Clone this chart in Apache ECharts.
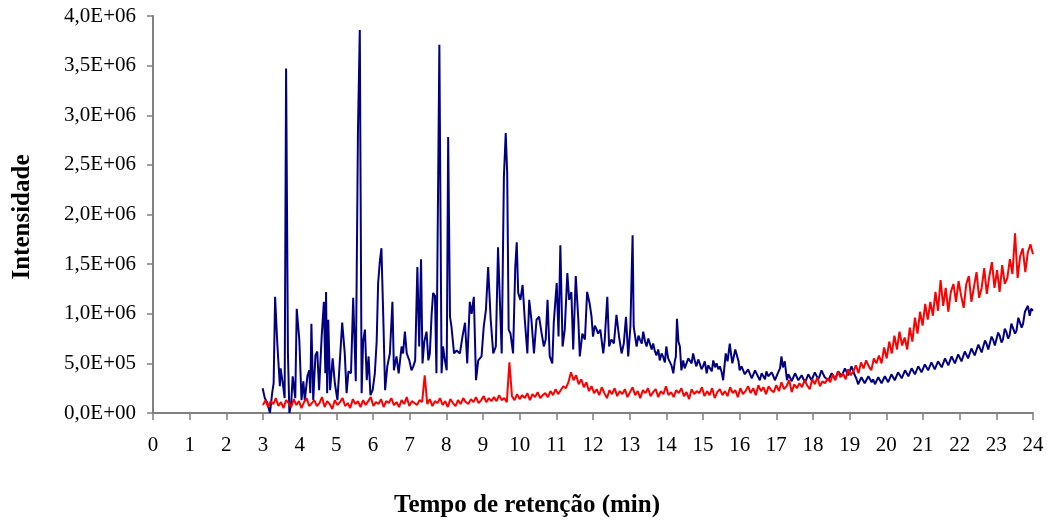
<!DOCTYPE html>
<html>
<head>
<meta charset="utf-8">
<script src="https://cdn.jsdelivr.net/npm/echarts@6/dist/echarts.min.js"></script>
<style>
html,body{margin:0;padding:0;background:#fff;}
#chart{width:1047px;height:524px;}
</style>
</head>
<body>
<div id="chart"></div>
<script>
// ---- DATA (intensity values in millions) ----
const X_TITLE = 'Tempo de retenção (min)';
const Y_TITLE = 'Intensidade';
const Y_TICK_LABELS = ['0,0E+00','5,0E+05','1,0E+06','1,5E+06','2,0E+06','2,5E+06','3,0E+06','3,5E+06','4,0E+06'];
const SCALE = 1e6;

// Blue series: [time (min), intensity (millions)]
const BLUE = [
[2.99,0.25],[3.05,0.15],[3.12,0.10],[3.19,0.00],[3.25,0.20],[3.29,0.30],[3.33,1.17],[3.39,0.70],[3.46,0.27],[3.48,0.45],
[3.55,0.27],[3.59,0.15],[3.63,3.47],[3.68,0.60],[3.72,0.00],[3.77,0.10],[3.81,0.37],[3.85,0.38],[3.88,0.15],[3.92,1.05],
[3.99,0.74],[4.05,0.13],[4.10,0.32],[4.14,0.13],[4.21,0.37],[4.26,0.43],[4.29,0.20],[4.32,0.90],[4.37,0.13],[4.43,0.58],
[4.48,0.62],[4.53,0.23],[4.60,0.77],[4.66,1.12],[4.70,0.40],[4.72,1.22],[4.75,0.20],[4.78,0.94],[4.83,0.23],[4.90,0.55],
[4.96,0.30],[5.03,0.13],[5.10,0.55],[5.16,0.91],[5.23,0.60],[5.28,0.20],[5.33,0.42],[5.40,0.40],[5.46,1.16],[5.53,0.32],
[5.59,2.85],[5.64,3.86],[5.69,0.20],[5.73,0.72],[5.78,0.84],[5.83,0.33],[5.88,0.57],[5.93,0.18],[5.99,0.23],[6.05,0.40],
[6.10,0.72],[6.14,1.31],[6.19,1.54],[6.23,1.66],[6.28,0.97],[6.33,0.23],[6.39,0.47],[6.46,0.60],[6.53,1.12],[6.57,0.43],
[6.64,0.57],[6.70,0.40],[6.78,0.67],[6.82,0.60],[6.87,0.82],[6.92,0.60],[6.99,0.53],[7.05,0.43],[7.10,0.47],[7.15,0.53],
[7.21,1.47],[7.26,0.67],[7.31,1.55],[7.35,0.50],[7.40,0.72],[7.46,0.82],[7.51,0.53],[7.55,0.60],[7.60,1.00],[7.64,1.21],
[7.69,1.18],[7.73,0.40],[7.78,0.40],[7.81,3.71],[7.87,0.40],[7.91,0.67],[7.96,0.53],[8.01,0.43],[8.05,2.78],[8.10,0.97],
[8.14,0.87],[8.21,0.60],[8.28,0.63],[8.37,0.60],[8.44,0.77],[8.51,0.91],[8.57,0.50],[8.64,1.12],[8.69,1.00],[8.75,1.17],
[8.81,0.33],[8.87,0.53],[8.96,0.57],[9.02,0.87],[9.08,1.04],[9.14,1.47],[9.21,0.94],[9.28,0.60],[9.35,0.67],[9.41,1.67],
[9.44,1.69],[9.51,0.60],[9.57,2.38],[9.62,2.82],[9.66,2.41],[9.70,0.84],[9.75,0.80],[9.82,0.60],[9.88,1.47],[9.92,1.72],
[9.96,1.21],[10.02,1.14],[10.08,1.29],[10.14,0.94],[10.21,0.60],[10.26,1.14],[10.32,0.94],[10.39,0.60],[10.46,0.94],[10.53,0.97],
[10.60,0.80],[10.66,0.67],[10.71,0.74],[10.76,1.14],[10.82,0.57],[10.89,0.50],[10.93,0.91],[11.01,1.31],[11.06,0.77],[11.11,1.69],
[11.17,0.67],[11.23,0.84],[11.30,1.41],[11.35,1.14],[11.41,1.22],[11.46,0.64],[11.53,1.38],[11.60,0.94],[11.64,0.57],[11.71,0.80],
[11.78,0.74],[11.84,1.22],[11.91,1.10],[11.96,0.97],[12.00,0.77],[12.05,0.88],[12.10,0.84],[12.14,0.80],[12.20,0.84],[12.28,0.60],
[12.32,0.74],[12.39,1.17],[12.44,0.67],[12.50,0.74],[12.57,0.70],[12.64,0.99],[12.71,0.77],[12.78,0.60],[12.84,0.70],[12.90,0.97],
[12.96,0.57],[13.02,0.87],[13.08,1.79],[13.11,0.87],[13.19,0.67],[13.24,0.78],[13.28,0.74],[13.33,0.70],[13.37,0.82],[13.42,0.72],
[13.46,0.67],[13.51,0.75],[13.55,0.70],[13.60,0.64],[13.64,0.70],[13.69,0.62],[13.73,0.58],[13.78,0.64],[13.82,0.53],[13.87,0.60],
[13.91,0.57],[13.96,0.51],[14.00,0.67],[14.05,0.55],[14.09,0.57],[14.14,0.48],[14.19,0.40],[14.23,0.52],[14.26,0.57],[14.29,0.95],
[14.33,0.72],[14.37,0.67],[14.41,0.43],[14.46,0.53],[14.50,0.45],[14.55,0.47],[14.60,0.55],[14.64,0.57],[14.69,0.50],[14.73,0.60],
[14.78,0.52],[14.82,0.47],[14.87,0.54],[14.91,0.50],[14.96,0.44],[15.00,0.47],[15.05,0.52],[15.10,0.40],[15.14,0.48],[15.19,0.47],
[15.24,0.42],[15.28,0.53],[15.33,0.46],[15.37,0.50],[15.42,0.44],[15.46,0.47],[15.51,0.41],[15.55,0.33],[15.58,0.45],[15.62,0.60],
[15.67,0.52],[15.73,0.70],[15.77,0.58],[15.80,0.50],[15.84,0.57],[15.88,0.64],[15.93,0.64],[15.97,0.52],[16.00,0.43],[16.05,0.47],
[16.09,0.45],[16.14,0.39],[16.19,0.38],[16.23,0.44],[16.28,0.42],[16.33,0.35],[16.37,0.36],[16.42,0.43],[16.46,0.41],[16.51,0.36],
[16.55,0.33],[16.60,0.40],[16.64,0.39],[16.69,0.34],[16.73,0.42],[16.78,0.37],[16.82,0.35],[16.87,0.41],[16.91,0.38],[16.96,0.33],
[17.00,0.34],[17.05,0.41],[17.10,0.45],[17.14,0.57],[17.18,0.46],[17.23,0.52],[17.29,0.33],[17.33,0.39],[17.37,0.38],[17.42,0.32],
[17.46,0.34],[17.51,0.40],[17.55,0.39],[17.60,0.33],[17.64,0.32],[17.69,0.38],[17.73,0.37],[17.78,0.31],[17.82,0.34],[17.87,0.39],
[17.91,0.39],[17.96,0.33],[18.00,0.35],[18.05,0.41],[18.09,0.40],[18.14,0.34],[18.18,0.37],[18.23,0.43],[18.27,0.42],[18.32,0.36],
[18.37,0.38],[18.42,0.33],[18.46,0.34],[18.51,0.40],[18.55,0.39],[18.60,0.34],[18.64,0.36],[18.69,0.42],[18.73,0.42],[18.78,0.37],
[18.82,0.38],[18.87,0.45],[18.91,0.44],[18.96,0.38],[19.00,0.40],[19.05,0.47],[19.09,0.45],[19.14,0.38],[19.18,0.35],[19.23,0.29],
[19.27,0.30],[19.32,0.36],[19.36,0.36],[19.41,0.30],[19.46,0.31],[19.51,0.37],[19.55,0.37],[19.60,0.31],[19.64,0.34],[19.69,0.29],
[19.73,0.30],[19.78,0.36],[19.82,0.35],[19.87,0.30],[19.91,0.32],[19.96,0.37],[20.00,0.36],[20.05,0.31],[20.09,0.33],[20.14,0.39],
[20.18,0.38],[20.23,0.33],[20.27,0.35],[20.32,0.41],[20.37,0.40],[20.42,0.35],[20.46,0.37],[20.51,0.43],[20.55,0.42],[20.60,0.37],
[20.64,0.39],[20.69,0.45],[20.73,0.44],[20.78,0.39],[20.82,0.41],[20.87,0.47],[20.91,0.46],[20.96,0.41],[21.00,0.43],[21.05,0.49],
[21.09,0.48],[21.14,0.43],[21.18,0.45],[21.23,0.51],[21.27,0.49],[21.32,0.44],[21.36,0.46],[21.41,0.52],[21.46,0.51],[21.51,0.46],
[21.55,0.48],[21.60,0.55],[21.64,0.53],[21.69,0.48],[21.73,0.50],[21.78,0.57],[21.82,0.55],[21.87,0.50],[21.91,0.52],[21.96,0.59],
[22.00,0.57],[22.05,0.52],[22.09,0.54],[22.14,0.62],[22.18,0.60],[22.23,0.55],[22.27,0.57],[22.32,0.65],[22.36,0.63],[22.41,0.58],
[22.46,0.60],[22.51,0.69],[22.55,0.67],[22.60,0.61],[22.64,0.63],[22.69,0.73],[22.73,0.70],[22.78,0.64],[22.82,0.66],[22.87,0.77],
[22.91,0.74],[22.96,0.68],[23.00,0.70],[23.05,0.81],[23.09,0.78],[23.14,0.71],[23.18,0.74],[23.23,0.85],[23.27,0.82],[23.32,0.75],
[23.36,0.78],[23.41,0.90],[23.46,0.88],[23.51,0.80],[23.55,0.83],[23.60,0.96],[23.64,0.94],[23.69,0.86],[23.73,0.90],[23.78,1.02],
[23.82,1.00],[23.86,1.08],[23.91,0.98],[23.95,1.05],[24.00,1.03]
];

// Red series: sampled every RED_STEP min from RED_T0 (intensity in millions)
const RED_T0 = 3.0;
const RED_STEP = 0.07;
const RED = [
0.08,0.13,0.06,0.12,0.09,0.15,0.07,0.11,0.05,0.13,
0.10,0.06,0.14,0.08,0.12,0.05,0.11,0.15,0.07,0.10,
0.13,0.07,0.10,0.16,0.06,0.12,0.09,0.04,0.13,0.08,
0.11,0.15,0.07,0.10,0.05,0.14,0.09,0.12,0.06,0.13,
0.08,0.12,0.16,0.07,0.11,0.09,0.14,0.06,0.12,0.10,
0.15,0.08,0.11,0.06,0.13,0.09,0.16,0.07,0.12,0.10,
0.08,0.13,0.11,0.38,0.09,0.14,0.07,0.12,0.10,0.15,
0.08,0.12,0.06,0.14,0.10,0.07,0.13,0.09,0.15,0.11,
0.09,0.14,0.11,0.16,0.10,0.13,0.17,0.11,0.15,0.12,
0.16,0.12,0.18,0.13,0.15,0.11,0.51,0.17,0.13,0.19,
0.14,0.18,0.15,0.20,0.13,0.19,0.16,0.21,0.15,0.18,
0.20,0.16,0.22,0.18,0.24,0.19,0.23,0.27,0.25,0.31,
0.41,0.33,0.38,0.29,0.34,0.26,0.31,0.22,0.27,0.20,
0.24,0.18,0.26,0.20,0.15,0.23,0.19,0.25,0.17,0.22,
0.19,0.24,0.16,0.21,0.26,0.18,0.22,0.15,0.23,0.20,
0.25,0.17,0.21,0.24,0.16,0.22,0.19,0.27,0.18,0.21,
0.16,0.23,0.20,0.25,0.17,0.21,0.14,0.24,0.19,0.22,
0.20,0.26,0.17,0.22,0.18,0.25,0.15,0.21,0.24,0.18,
0.22,0.17,0.26,0.20,0.23,0.16,0.25,0.19,0.22,0.27,
0.20,0.25,0.18,0.28,0.22,0.26,0.19,0.27,0.23,0.21,
0.28,0.22,0.31,0.24,0.27,0.33,0.21,0.29,0.25,0.30,
0.26,0.33,0.28,0.24,0.34,0.29,0.36,0.27,0.32,0.30,
0.35,0.31,0.39,0.33,0.42,0.36,0.40,0.34,0.44,0.38,
0.42,0.48,0.40,0.51,0.45,0.53,0.47,0.43,0.55,0.50,
0.58,0.50,0.66,0.55,0.72,0.60,0.78,0.64,0.82,0.68,
0.76,0.64,0.86,0.72,0.96,0.80,1.02,0.88,1.10,0.94,
1.12,0.98,1.22,1.03,1.34,1.08,1.26,1.02,1.22,1.30,
1.12,1.33,1.18,1.06,1.30,1.38,1.12,1.27,1.42,1.16,
1.26,1.46,1.20,1.38,1.52,1.26,1.44,1.22,1.49,1.30,
1.36,1.55,1.40,1.81,1.36,1.58,1.66,1.42,1.62,1.70,
1.60
];

// ---- build ----
const blueData = BLUE.map(p => [p[0], p[1] * SCALE]);
const redData = RED.map((v, i) => [+(RED_T0 + i * RED_STEP).toFixed(2), v * SCALE]);

const FONT = '"Liberation Serif", "Times New Roman", serif';
const AXIS_COLOR = '#808080';

const chart = echarts.init(document.getElementById('chart'), null, {renderer: 'canvas'});
chart.setOption({
  animation: false,
  backgroundColor: '#ffffff',
  grid: {left: 153, right: 14, top: 16, bottom: 111, containLabel: false},
  xAxis: {
    type: 'value', min: 0, max: 24, interval: 1,
    axisLine: {show: true, lineStyle: {color: AXIS_COLOR, width: 2}},
    axisTick: {show: true, length: 7, lineStyle: {color: AXIS_COLOR, width: 1.5}},
    axisLabel: {color: '#000', fontFamily: FONT, fontSize: 21, margin: 22},
    splitLine: {show: false}
  },
  yAxis: {
    type: 'value', min: 0, max: 4e6, interval: 5e5,
    axisLine: {show: true, lineStyle: {color: AXIS_COLOR, width: 2}},
    axisTick: {show: true, length: 6, lineStyle: {color: AXIS_COLOR, width: 1.5}},
    axisLabel: {color: '#000', fontFamily: FONT, fontSize: 21, margin: 17,
      formatter: v => Y_TICK_LABELS[Math.round(v / 5e5)]},
    splitLine: {show: false}
  },
  graphic: [
    {type: 'text', x: 527, y: 506, style: {text: X_TITLE, font: 'bold 25px ' + FONT, fill: '#000', align: 'center', verticalAlign: 'middle'}},
    {type: 'text', x: 23, y: 217, rotation: Math.PI / 2, style: {text: Y_TITLE, font: 'bold 25px ' + FONT, fill: '#000', align: 'center', verticalAlign: 'middle'}}
  ],
  series: [
    {type: 'line', data: blueData, showSymbol: false, symbol: 'none',
      lineStyle: {color: '#000080', width: 2}, itemStyle: {color: '#000080'}, z: 2},
    {type: 'line', data: redData, showSymbol: false, symbol: 'none',
      lineStyle: {color: '#FF0000', width: 2}, itemStyle: {color: '#FF0000'}, z: 3}
  ]
});
</script>
</body>
</html>
